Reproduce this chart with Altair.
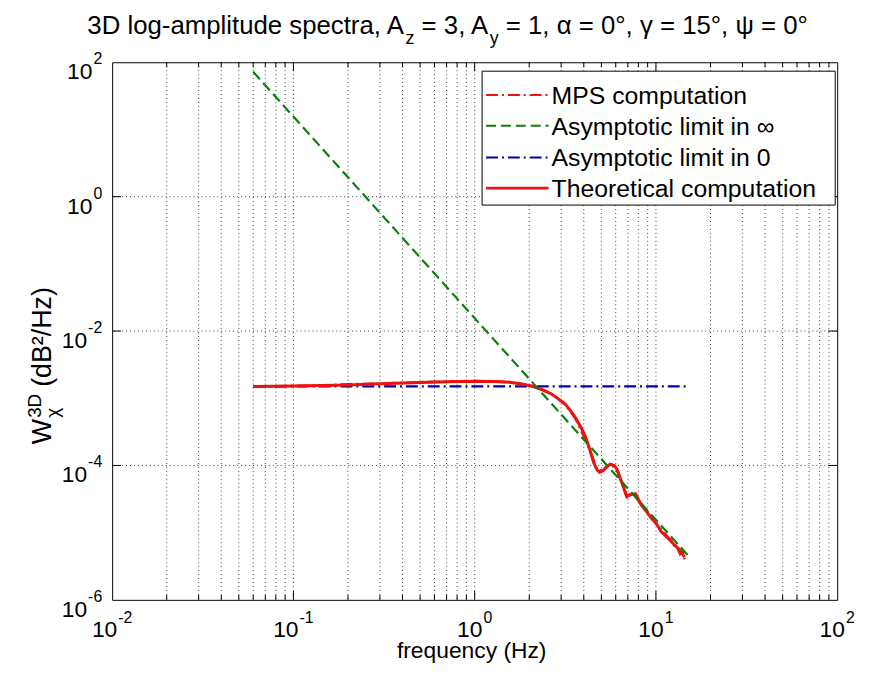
import altair as alt
import pandas as pd

# ---------------- data ----------------
theo_freq = [0.06, 0.1, 0.2, 0.3, 0.5, 0.8, 1.0, 1.3, 1.55, 1.8, 2.08, 2.4, 2.68, 2.9,
             3.17, 3.4, 3.6, 3.91, 4.1, 4.25, 4.4, 4.53, 4.73, 4.9, 5.1, 5.36, 5.6,
             5.9, 6.08, 6.48, 6.9, 7.35, 7.7, 8.34, 9.0, 9.46, 10.0, 10.7, 11.5,
             12.7, 13.5, 14.4]
theo_w = [1.50e-3, 1.52e-3, 1.58e-3, 1.64e-3, 1.72e-3, 1.78e-3, 1.79e-3, 1.77e-3,
          1.73e-3, 1.64e-3, 1.51e-3, 1.32e-3, 1.14e-3, 9.8e-4, 8.1e-4, 6.4e-4,
          5.1e-4, 3.46e-4, 2.6e-4, 1.96e-4, 1.45e-4, 1.11e-4, 8.6e-5, 7.9e-5,
          8.4e-5, 9.7e-5, 1.05e-4, 1.0e-4, 8.9e-5, 5.6e-5, 3.5e-5, 3.7e-5, 3.8e-5,
          2.55e-5, 1.95e-5, 1.62e-5, 1.4e-5, 1.03e-5, 8.6e-6, 6.5e-6, 5.6e-6, 4.3e-6]

mps_freq = [0.06, 0.15, 0.2, 0.3, 0.5, 1.0, 1.55, 2.08, 2.68, 3.17, 3.6, 4.25, 4.73,
            5.1, 5.6, 6.08, 6.48, 6.9, 7.35, 7.7, 8.0, 8.34, 8.8, 9.2, 9.6, 10.0,
            10.4, 10.9, 11.3, 11.8, 12.2, 12.7, 13.1, 13.6, 14.0, 14.4]
mps_w = [1.50e-3, 1.55e-3, 1.62e-3, 1.65e-3, 1.74e-3, 1.80e-3, 1.74e-3, 1.52e-3,
         1.15e-3, 8.0e-4, 5.0e-4, 1.9e-4, 8.8e-5, 8.3e-5, 1.04e-4, 8.8e-5, 5.5e-5,
         3.4e-5, 3.9e-5, 3.6e-5, 3.0e-5, 2.6e-5, 2.2e-5, 1.9e-5, 1.7e-5, 1.35e-5,
         1.25e-5, 1.02e-5, 9.5e-6, 8.2e-6, 7.6e-6, 6.2e-6, 6.0e-6, 4.8e-6, 5.2e-6,
         4.0e-6]

asym_freq = [0.06, 15.0]
asym_inf_w = [72.0, 4.6e-6]
asym_zero_w = [1.5e-3, 1.5e-3]

x_decades = [0.01, 0.1, 1, 10, 100]
x_exps = ["-2", "-1", "0", "1", "2"]
y_decades = [1e-6, 1e-4, 1e-2, 1, 100]
y_exps = ["-6", "-4", "-2", "0", "2"]

legend_labels = ["MPS computation", "Asymptotic limit in \u221e",
                 "Asymptotic limit in 0", "Theoretical computation"]

# ---------------- styling ----------------
W, H = 731, 542
FONT = "Liberation Sans, Arial, Helvetica, sans-serif"
RED = "#ee1111"
GREEN = "#0a800a"
BLUE = "#0000a8"
DASHDOT = [12, 4, 2, 4]
DASH = [10, 5]

_AW = {' ': 278, ',': 278, '-': 333, '.': 278, '/': 278, '(': 333, ')': 333,
       '=': 584, '\u00b0': 400, '\u00b2': 333, 'A': 667, 'B': 667, 'D': 722,
       'H': 722, 'M': 833, 'P': 667, 'S': 667, 'T': 611, 'W': 944,
       'a': 556, 'b': 556, 'c': 500, 'd': 556, 'e': 556, 'f': 278, 'g': 556,
       'h': 556, 'i': 222, 'j': 222, 'k': 500, 'l': 222, 'm': 833, 'n': 556,
       'o': 556, 'p': 556, 'q': 556, 'r': 333, 's': 500, 't': 278, 'u': 556,
       'v': 500, 'w': 722, 'x': 500, 'y': 500, 'z': 500,
       '\u03b1': 578, '\u03b3': 500, '\u03c8': 713, '\u03c7': 500}


def tw(s, size):
    return sum(_AW.get(c, 556) for c in s) / 1000.0 * size


xs = alt.Scale(type="log", domain=[0.01, 100], nice=False)
ys = alt.Scale(type="log", domain=[1e-6, 100], nice=False)

dummy = alt.Chart(pd.DataFrame({"_": [0]}))


def txt(s, x, y, size, align="left", baseline="alphabetic", angle=0, color="black"):
    return dummy.mark_text(text=s, font=FONT, fontSize=size, align=align,
                           baseline=baseline, angle=angle, color=color).encode(
        x=alt.value(x), y=alt.value(y))


layers = []

# grid
minor_x = [m * d for d in x_decades[:-1] for m in range(1, 10)][1:]
grid_x = pd.DataFrame({"f": minor_x})
layers.append(alt.Chart(grid_x).mark_rule(color="#111", strokeWidth=1, strokeDash=[1, 3],
                                          opacity=0.8).encode(
    x=alt.X("f:Q", scale=xs, axis=None)))
grid_y = pd.DataFrame({"w": y_decades[1:-1]})
layers.append(alt.Chart(grid_y).mark_rule(color="#111", strokeWidth=1, strokeDash=[1, 3],
                                          opacity=0.8).encode(
    y=alt.Y("w:Q", scale=ys, axis=None)))

# curves
df_theo = pd.DataFrame({"f": theo_freq, "w": theo_w})
df_mps = pd.DataFrame({"f": mps_freq, "w": mps_w})
df_inf = pd.DataFrame({"f": asym_freq, "w": asym_inf_w})
df_zero = pd.DataFrame({"f": asym_freq, "w": asym_zero_w})


def curve(df, color, width, dash=None):
    kw = dict(color=color, strokeWidth=width)
    if dash:
        kw["strokeDash"] = dash
    return alt.Chart(df).mark_line(**kw).encode(
        x=alt.X("f:Q", scale=xs, axis=None),
        y=alt.Y("w:Q", scale=ys, axis=None))


layers.append(curve(df_zero, BLUE, 2.2, DASHDOT))
layers.append(curve(df_mps, RED, 2.5, DASHDOT))
layers.append(curve(df_theo, RED, 3))
layers.append(curve(df_inf, GREEN, 2.2, DASH))

# inward ticks
maj_x = pd.DataFrame({"f": x_decades[1:-1]})
min_x = pd.DataFrame({"f": [v for v in minor_x if v not in x_decades]})
for df, ln in ((maj_x, 9), (min_x, 5)):
    layers.append(alt.Chart(df).mark_rule(color="black").encode(
        x=alt.X("f:Q", scale=xs, axis=None), y=alt.value(H), y2=alt.value(H - ln)))
    layers.append(alt.Chart(df).mark_rule(color="black").encode(
        x=alt.X("f:Q", scale=xs, axis=None), y=alt.value(0), y2=alt.value(ln)))
maj_y = pd.DataFrame({"w": y_decades[1:-1]})
layers.append(alt.Chart(maj_y).mark_rule(color="black").encode(
    y=alt.Y("w:Q", scale=ys, axis=None), x=alt.value(0), x2=alt.value(9)))
layers.append(alt.Chart(maj_y).mark_rule(color="black").encode(
    y=alt.Y("w:Q", scale=ys, axis=None), x=alt.value(W), x2=alt.value(W - 9)))

# tick labels (10 + superscript exponent)
LS, ES = 23, 16
xl = pd.DataFrame({"f": x_decades, "e": x_exps})
for neg in (True, False):
    sub = xl[xl["e"].str.startswith("-") == neg]
    we = tw("-2" if neg else "2", ES)
    total = tw("10", LS) + 1 + we
    right10 = -total / 2 + tw("10", LS)
    layers.append(alt.Chart(sub).mark_text(text="10", font=FONT, fontSize=LS, align="right",
                                           dx=right10).encode(
        x=alt.X("f:Q", scale=xs, axis=None), y=alt.value(H + 30)))
    layers.append(alt.Chart(sub).mark_text(font=FONT, fontSize=ES, align="left",
                                           dx=right10 + 1).encode(
        x=alt.X("f:Q", scale=xs, axis=None), y=alt.value(H + 18), text="e:N"))

yl = pd.DataFrame({"w": y_decades, "e": y_exps})
for neg in (True, False):
    sub = yl[yl["e"].str.startswith("-") == neg]
    we = tw("-2" if neg else "2", ES)
    layers.append(alt.Chart(sub).mark_text(font=FONT, fontSize=ES, align="right",
                                           dx=-10, dy=-3).encode(
        y=alt.Y("w:Q", scale=ys, axis=None), x=alt.value(0), text="e:N"))
    layers.append(alt.Chart(sub).mark_text(text="10", font=FONT, fontSize=LS, align="right",
                                           dx=-11 - we, dy=10).encode(
        y=alt.Y("w:Q", scale=ys, axis=None), x=alt.value(0)))

# axis titles
layers.append(txt("frequency (Hz)", W / 2 - 3, H + 59, 23, align="center"))
# y title, rotated: W ^3D _chi (dB^2/Hz)
YX = -62
y0 = 385
YS = 27
layers.append(txt("W", YX, y0, YS, angle=270))
wW = tw("W", YS)
layers.append(txt("3D", YX - 10, y0 - wW - 1, 19, angle=270))
layers.append(txt("\u03c7", YX + 8, y0 - wW - 1, 19, angle=270))
layers.append(txt("(dB\u00b2/Hz)", YX, y0 - wW - tw("3D", 19) - 8, YS, angle=270))

# title with subscripts (leading spaces are collapsed in SVG, so advance manually)
TS, SS = 26, 18
pieces = [("3D log-amplitude spectra, A", TS, 0), ("z", SS, 10), (" = 3, A", TS, 0),
          ("y", SS, 10), (" = 1, \u03b1 = 0\u00b0, \u03b3 = 15\u00b0, \u03c8 = 0\u00b0", TS, 0)]
cx = -25
for s, sz, off in pieces:
    stripped = s.lstrip(" ")
    cx += tw(s[:len(s) - len(stripped)], sz)
    layers.append(txt(stripped, cx, -28 + off, sz))
    cx += tw(stripped, sz)

# legend
LX0, LX1, LY0, LY1 = 373, 729, 9, 144
layers.append(dummy.mark_rect(fill="white", stroke="black", strokeWidth=1).encode(
    x=alt.value(LX0), x2=alt.value(LX1), y=alt.value(LY0), y2=alt.value(LY1)))
rows = [33, 64, 96, 127]
styles = [(RED, DASHDOT, 2.2), (GREEN, DASH, 2.2), (BLUE, DASHDOT, 2.2), (RED, None, 2.8)]
for ry, (col, dash, sw), lab in zip(rows, styles, legend_labels):
    kw = dict(color=col, strokeWidth=sw)
    if dash:
        kw["strokeDash"] = dash
    layers.append(dummy.mark_rule(**kw).encode(
        x=alt.value(377), x2=alt.value(440), y=alt.value(ry)))
    layers.append(txt(lab, 443, ry + 9, 25))

chart = alt.layer(*layers).properties(
    width=W, height=H, autosize="none",
    padding={"left": 105, "top": 52, "right": 24, "bottom": 65},
    background="white",
).configure_view(stroke="black", strokeWidth=1)

chart.save("out.html", embed_options={"renderer": "svg", "actions": False})
